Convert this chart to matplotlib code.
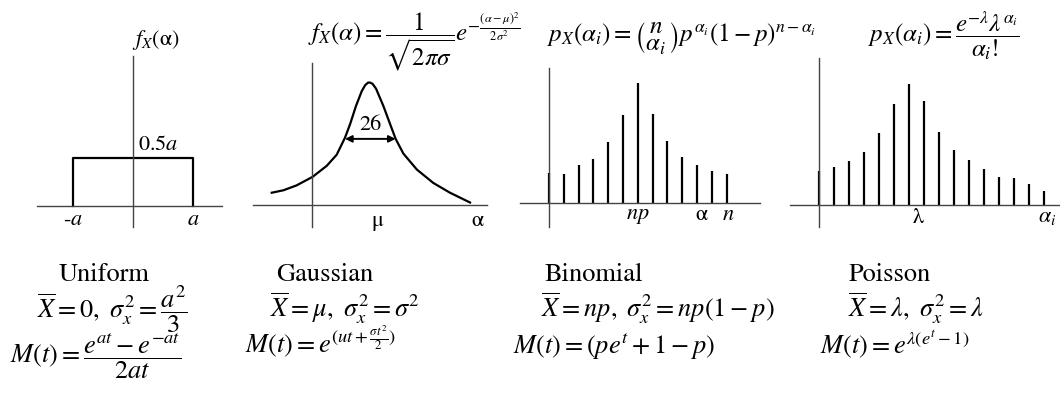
import numpy as np
import matplotlib
matplotlib.use("Agg")
from matplotlib import pyplot as plt

plt.rcParams['font.family'] = ['STIXGeneral', 'DejaVu Serif']
plt.rcParams['mathtext.fontset'] = 'stix'

W, H = 1060, 403

# uniform: half-width a and density height
unif_a = 1.0
unif_h = 0.5

# bell curve (x in units of the mu offset, y relative to peak)
gauss_x = [-1.83, -1.30, -0.70, 0.03, 0.67, 1.12, 1.50, 1.73, 2.00, 2.26, 2.42, 2.55,
           2.64, 2.75, 2.91, 3.24, 3.55, 3.80, 4.15, 4.76, 5.51, 6.27, 7.18]
gauss_y = [0.10, 0.12, 0.16, 0.23, 0.32, 0.41, 0.55, 0.66, 0.81, 0.93, 0.98, 1.00,
           1.00, 0.99, 0.95, 0.81, 0.66, 0.54, 0.42, 0.29, 0.18, 0.10, 0.02]
gauss_mu = 3.0
width_left, width_right, width_level = 1.50, 3.80, 0.54

# binomial and poisson stem heights (relative to the tallest)
binom_p = [0.25, 0.24, 0.32, 0.37, 0.51, 0.73, 1.00, 0.74, 0.52, 0.38, 0.32, 0.27, 0.24]
poiss_p = [0.28, 0.31, 0.36, 0.44, 0.59, 0.83, 1.00, 0.86, 0.60, 0.45, 0.37, 0.30,
           0.23, 0.22, 0.17, 0.12]

names = ['Uniform', 'Gaussian', 'Binomial', 'Poisson']

fig = plt.figure(figsize=(W / 100, H / 100), dpi=100)


def px(x, y):
    return x / W, 1 - y / H


def make_ax(x0, x1, y0, y1, xlim, ylim):
    ax = fig.add_axes([x0 / W, 1 - y1 / H, (x1 - x0) / W, (y1 - y0) / H])
    ax.set_xlim(*xlim)
    ax.set_ylim(*ylim)
    for s in ['top', 'right']:
        ax.spines[s].set_visible(False)
    for s in ['left', 'bottom']:
        ax.spines[s].set_position(('data', 0))
        ax.spines[s].set_color('#444444')
        ax.spines[s].set_linewidth(1.0)
    ax.set_xticks([])
    ax.set_yticks([])
    ax.patch.set_alpha(0)
    return ax


lw = 1.6
tfs = 16

# uniform
ax1 = make_ax(37, 222, 56, 227, (-1.6, 1.48), (-0.22, 1.56))
ax1.plot([-unif_a, -unif_a, unif_a, unif_a], [0, unif_h, unif_h, 0], color='k', lw=lw)
ax1.text(-unif_a, -0.15, '-$a$', ha='center', va='center', fontsize=tfs)
ax1.text(unif_a, -0.15, '$a$', ha='center', va='center', fontsize=tfs)
ax1.text(0.42, unif_h + 0.13, '0.5$a$', ha='center', va='center', fontsize=tfs)
fig.text(*px(156, 45), r'$f_X$(α)', ha='center', va='baseline', fontsize=16)

# gaussian
ax2 = make_ax(253, 487, 63, 227, (-2.68, 7.95), (-0.18, 1.16))
ax2.plot(gauss_x, gauss_y, color='k', lw=lw, solid_joinstyle='round')
ax2.annotate('', xy=(width_right, width_level), xytext=(width_left, width_level),
             arrowprops=dict(arrowstyle='<|-|>', color='k', lw=1.4, mutation_scale=10,
                             shrinkA=0, shrinkB=0))
ax2.text((width_left + width_right) / 2, width_level + 0.11, '26', ha='center', va='center',
         fontsize=tfs)
ax2.text(gauss_mu, -0.13, 'μ', ha='center', va='center', fontsize=tfs)
ax2.text(7.5, -0.13, 'α', ha='center', va='center', fontsize=tfs)
fig.text(*px(308, 41),
         r'$f_X(\alpha) = \dfrac{1}{\sqrt{2\pi\sigma}}e^{-\frac{(\alpha-\mu)^2}{2\sigma^2}}$',
         ha='left', va='baseline', fontsize=18)

# binomial
ax3 = make_ax(520, 760, 68, 227, (-1.96, 14.26), (-0.2, 1.125))
ax3.vlines(np.arange(len(binom_p)), 0, binom_p, color='k', lw=lw)
ax3.text(6.0, -0.11, '$np$', ha='center', va='center', fontsize=tfs)
ax3.text(10.3, -0.1, 'α', ha='center', va='center', fontsize=tfs)
ax3.text(12.1, -0.1, '$n$', ha='center', va='center', fontsize=tfs)
fig.text(*px(547, 42),
         r'$p_X(\alpha_i) = \genfrac{(}{)}{0}{0}{n}{\alpha_i}p^{\alpha_i}(1-p)^{n-\alpha_i}$',
         ha='left', va='baseline', fontsize=18)

# poisson
ax4 = make_ax(790, 1060, 58, 227, (-1.93, 16.07), (-0.18, 1.21))
ax4.vlines(np.arange(len(poiss_p)), 0, poiss_p, color='k', lw=lw)
ax4.text(6.6, -0.11, 'λ', ha='center', va='center', fontsize=tfs)
ax4.text(15.2, -0.1, r'$\alpha_i$', ha='center', va='center', fontsize=tfs)
fig.text(*px(868, 42),
         r'$p_X(\alpha_i) = \dfrac{e^{-\lambda}\lambda^{\alpha_i}}{\alpha_i!}$',
         ha='left', va='baseline', fontsize=18)

# names and moments under each panel
fs = 19
for name, cx in zip(names, [104, 325, 594, 890]):
    fig.text(*px(cx, 281), name, ha='center', va='baseline', fontsize=fs)

fig.text(*px(37, 317), r'$\overline{X} = 0,\ \sigma_x^2 = \dfrac{a^2}{3}$',
         ha='left', va='baseline', fontsize=fs)
fig.text(*px(10, 364), r'$M(t) = \dfrac{e^{at} - e^{-at}}{2at}$',
         ha='left', va='baseline', fontsize=fs)
fig.text(*px(270, 317), r'$\overline{X} = \mu,\ \sigma_x^2 = \sigma^2$',
         ha='left', va='baseline', fontsize=fs)
fig.text(*px(245, 352), r'$M(t) = e^{(ut + \frac{\sigma t^2}{2})}$',
         ha='left', va='baseline', fontsize=fs)
fig.text(*px(541, 317), r'$\overline{X} = np,\ \sigma_x^2 = np(1-p)$',
         ha='left', va='baseline', fontsize=fs)
fig.text(*px(513, 354), r'$M(t) = (pe^t + 1 - p)$',
         ha='left', va='baseline', fontsize=fs)
fig.text(*px(848, 317), r'$\overline{X} = \lambda,\ \sigma_x^2 = \lambda$',
         ha='left', va='baseline', fontsize=fs)
fig.text(*px(820, 354), r'$M(t) = e^{\lambda(e^t - 1)}$',
         ha='left', va='baseline', fontsize=fs)

fig.savefig('out.png', dpi=100)
